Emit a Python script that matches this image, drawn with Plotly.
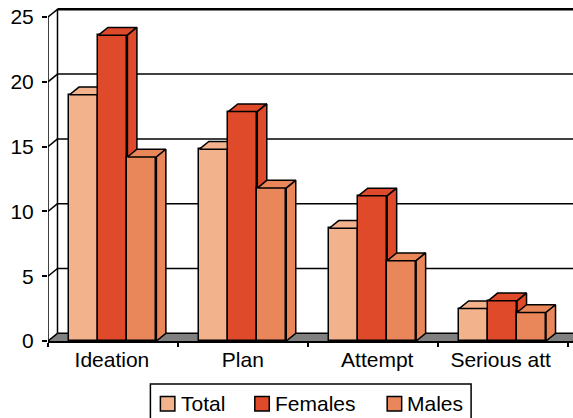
import plotly.graph_objects as go

categories = ["Ideation", "Plan", "Attempt", "Serious att"]
total = [19.0, 14.8, 8.7, 2.5]
females = [23.6, 17.7, 11.2, 3.1]
males = [14.2, 11.8, 6.2, 2.2]
y_ticks = [0, 5, 10, 15, 20, 25]

series = [
    ("Total", total, "#F2B28C"),
    ("Females", females, "#DE4A2A"),
    ("Males", males, "#E9875B"),
]

# Depth of the box projection, in axis units
DX = 9.5 / 130
DY = 7.7 / 12.96
BAR_W = 29 / 130
LINE = dict(color="black", width=1.5)

# Plot area position on the page, used to place the key in page pixels
LEFT, BOTTOM, PLOT_W, PLOT_H = 47.5, 341, 525.5, 336
X_MAX = -0.5 + PLOT_W / 130
Y_MAX = PLOT_H / 12.96


def page_x(px):
    return (px - LEFT) / PLOT_W


def page_y(py):
    return (BOTTOM - py) / PLOT_H


fig = go.Figure()


def segments(pairs):
    xs, ys = [], []
    for (x0, y0), (x1, y1) in pairs:
        xs += [x0, x1, None]
        ys += [y0, y1, None]
    return xs, ys


def helper(xs, ys, **kw):
    fig.add_trace(go.Scatter(x=xs, y=ys, mode="lines", showlegend=False,
                             hoverinfo="skip", cliponaxis=False, **kw))


# Chart floor
helper([-0.5, -0.5 + DX, X_MAX + DX, X_MAX], [0, DY, DY, 0],
       fill="toself", fillcolor="#808080", line=dict(color="#808080", width=0))
# Back wall grid lines and the slanted side wall
xs, ys = segments([((-0.5 + DX, v + DY), (X_MAX + DX, v + DY)) for v in y_ticks])
helper(xs, ys, line=LINE)
xs, ys = segments([((-0.5, v), (-0.5 + DX, v + DY)) for v in y_ticks])
helper(xs, ys, line=LINE)
helper([-0.5, -0.5], [0, 25], line=LINE)
helper([-0.5 + DX, -0.5 + DX], [DY, 25 + DY], line=LINE)
helper([-0.5 + DX, X_MAX + DX], [25 + DY, 25 + DY], line=dict(color="black", width=2.5))

# One overlaid subplot per series, so later bars hide the sides of earlier ones
for s, (name, values, colour) in enumerate(series):
    axis = str(s + 2)
    offset = (s - 1) * BAR_W
    positions = [i + offset for i in range(len(values))]
    fig.add_trace(go.Bar(x=positions, y=values, width=BAR_W, name=name, showlegend=False,
                         marker=dict(color=colour, line=LINE), cliponaxis=False,
                         xaxis="x" + axis, yaxis="y" + axis))
    for p, v in zip(positions, values):
        left, right = p - BAR_W / 2, p + BAR_W / 2
        helper([left, left + DX, right + DX, right, left],
               [v, v + DY, v + DY, v, v],
               fill="toself", fillcolor=colour, line=LINE,
               xaxis="x" + axis, yaxis="y" + axis)
        helper([right, right + DX, right + DX, right, right],
               [v, v + DY, DY, 0, v],
               fill="toself", fillcolor=colour, line=LINE,
               xaxis="x" + axis, yaxis="y" + axis)

font = dict(family="Liberation Sans", size=21, color="black")

# Key below the chart: frame, swatches and names
shapes = [dict(type="rect", xref="paper", yref="paper",
               x0=page_x(150), x1=page_x(471), y0=page_y(384), y1=page_y(425),
               line=dict(color="black", width=1.5), fillcolor="white")]
annotations = []
key_swatch_left = [160, 254.5, 387]
key_text_left = [180.5, 274.5, 407]
for (name, _, colour), sx, tx in zip(series, key_swatch_left, key_text_left):
    shapes.append(dict(type="rect", xref="paper", yref="paper",
                       x0=page_x(sx), x1=page_x(sx + 14.5),
                       y0=page_y(396.5), y1=page_y(411),
                       line=dict(color="black", width=1.5), fillcolor=colour))
    annotations.append(dict(text=name, xref="paper", yref="paper",
                            x=page_x(tx), y=page_y(403.5), xanchor="left",
                            yanchor="middle", showarrow=False, font=font,
                            borderpad=0, borderwidth=0))

layout = dict(
    width=573, height=418, autosize=False,
    margin=dict(l=LEFT, r=0, t=BOTTOM - PLOT_H, b=418 - BOTTOM, pad=0, autoexpand=False),
    paper_bgcolor="white", plot_bgcolor="white",
    font=font, bargap=0, barmode="overlay", showlegend=False,
    shapes=shapes, annotations=annotations,
    xaxis=dict(range=[-0.5, X_MAX], tickmode="array",
               tickvals=[i - 0.5 for i in range(len(categories) + 1)],
               ticktext=[""] * (len(categories) + 1),
               ticks="outside", ticklen=4, tickwidth=1.5, tickcolor="black",
               showgrid=False, zeroline=False,
               showline=True, linecolor="black", linewidth=2),
    yaxis=dict(range=[0, Y_MAX], tickmode="array", tickvals=y_ticks,
               ticks="outside", ticklen=5, tickwidth=1.5, tickcolor="black",
               ticklabelstandoff=4, showgrid=False, zeroline=False, showline=False),
)
for s in range(len(series)):
    k = str(s + 2)
    layout["xaxis" + k] = dict(matches="x", overlaying="x", visible=False, anchor="y" + k)
    layout["yaxis" + k] = dict(matches="y", overlaying="y", visible=False, anchor="x" + k)
# Category names sit on the first overlaid x axis, centred under each group
layout["xaxis2"].update(visible=True, tickmode="array",
                        tickvals=[-0.008, 1, 2.035, 2.985], ticktext=categories,
                        ticks="", showgrid=False, zeroline=False, showline=False,
                        ticklabelstandoff=4, tickfont=font)
fig.update_layout(**layout)
fig.write_html("out.html")
